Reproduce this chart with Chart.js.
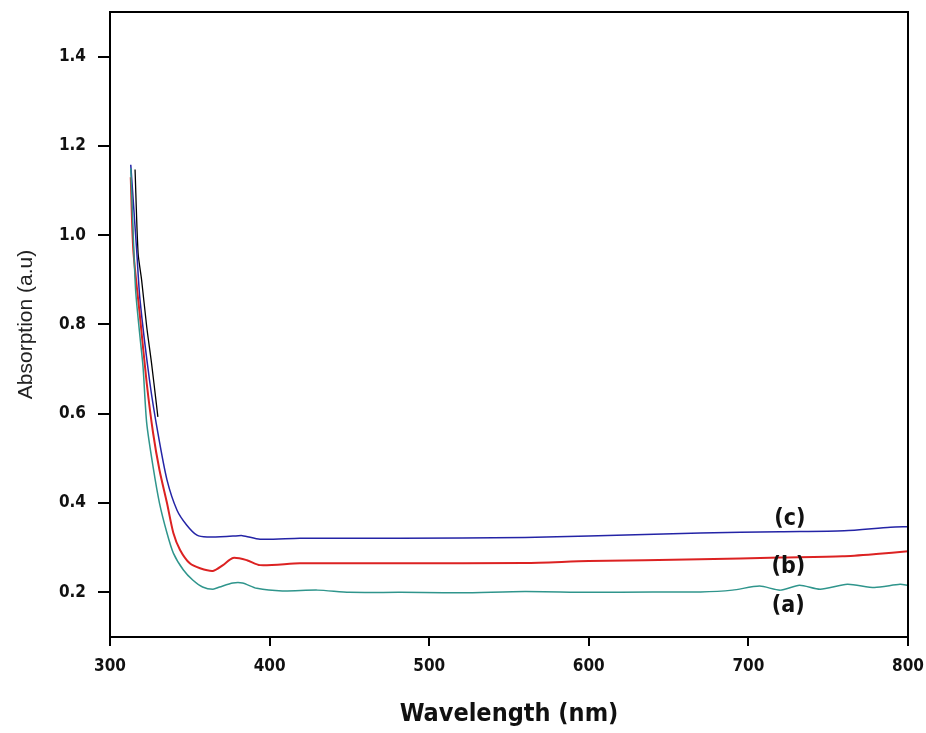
<!DOCTYPE html>
<html>
<head>
<meta charset="utf-8">
<script src="https://cdn.jsdelivr.net/npm/chart.js@4.4.1/dist/chart.umd.min.js"></script>
<style>
  html, body { margin: 0; padding: 0; background: #fff; }
  #wrap { width: 926px; height: 733px; }
</style>
</head>
<body>
<div id="wrap"><canvas id="myChart" width="926" height="733"></canvas></div>
<script>
// tick labels
var xTicks = [300, 400, 500, 600, 700, 800]
var yTicks = [0.2, 0.4, 0.6, 0.8, 1.0, 1.2, 1.4]

// (a) teal
var wlA = [313, 316, 318.8, 320.7, 323, 327, 331, 335.7, 339.7, 346, 352, 358, 364.5, 368.7, 377, 383, 392, 408, 430, 450, 482, 520, 560, 600, 640, 670, 690, 707, 720, 732, 745, 762, 779, 795, 800]
var absA = [1.15, 0.88, 0.772, 0.705, 0.579, 0.481, 0.4, 0.333, 0.288, 0.25, 0.227, 0.212, 0.207, 0.212, 0.221, 0.221, 0.209, 0.203, 0.205, 0.2, 0.2, 0.199, 0.202, 0.2, 0.201, 0.201, 0.205, 0.214, 0.205, 0.216, 0.207, 0.218, 0.211, 0.218, 0.216]

// (b) red
var wlB = [313, 314.6, 318.8, 323, 327, 331, 335.7, 339.7, 343.9, 350, 356.4, 364.5, 370.8, 377, 385.8, 394, 419, 482, 560, 600, 670, 720, 759, 780, 800]
var absB = [1.13, 0.967, 0.817, 0.669, 0.557, 0.474, 0.4, 0.333, 0.295, 0.265, 0.254, 0.248, 0.261, 0.277, 0.272, 0.261, 0.265, 0.265, 0.266, 0.27, 0.274, 0.278, 0.281, 0.286, 0.292]

// (c) blue
var wlC = [313, 316.7, 318.8, 325, 330, 335.7, 342, 348, 354.5, 360.8, 377, 383, 394, 419, 482, 560, 600, 670, 720, 760, 789, 800]
var absC = [1.158, 0.967, 0.855, 0.669, 0.557, 0.452, 0.384, 0.351, 0.328, 0.324, 0.326, 0.327, 0.319, 0.321, 0.321, 0.323, 0.326, 0.333, 0.336, 0.338, 0.346, 0.347]

// short black trace visible in the steep part
var wlK = [315.7, 317.6, 319.8, 323, 326, 329, 330]
var absK = [1.147, 0.96, 0.9, 0.795, 0.714, 0.624, 0.593]

// curve labels
var labelText = ["(c)", "(b)", "(a)"]
var labelX = [726, 725, 725]
var labelY = [0.364, 0.257, 0.169]

function pts(xs, ys) {
    var out = []
    for (let i = 0; i < xs.length; i++) out.push({ x: xs[i], y: ys[i] })
    return out
}

var boxPlugin = {
    id: 'box',
    afterDraw: function(chart) {
        var ctx = chart.ctx, a = chart.chartArea
        ctx.save()
        ctx.strokeStyle = '#000'
        ctx.lineWidth = 2
        ctx.beginPath()
        ctx.moveTo(a.left, a.top)
        ctx.lineTo(a.right, a.top)
        ctx.lineTo(a.right, a.bottom)
        ctx.stroke()
        // curve labels
        ctx.fillStyle = '#111'
        ctx.font = 'bold 23px "DejaVu Sans Condensed", sans-serif'
        ctx.textAlign = 'center'
        ctx.textBaseline = 'middle'
        for (let i = 0; i < labelText.length; i++) {
            ctx.fillText(labelText[i], chart.scales.x.getPixelForValue(labelX[i]), chart.scales.y.getPixelForValue(labelY[i]))
        }
        ctx.restore()
    }
}

var tickFont = { family: '"DejaVu Sans Condensed", sans-serif', size: 17, weight: 'bold' }

new Chart("myChart", {
    type: "line",
    data: {
        datasets: [{
            label: '(a)',
            data: pts(wlA, absA),
            borderColor: "#2f958c",
            borderWidth: 1.5
        }, {
            label: '(b)',
            data: pts(wlB, absB),
            borderColor: "#dc2222",
            borderWidth: 2
        }, {
            label: '(c)',
            data: pts(wlC, absC),
            borderColor: "#2424a6",
            borderWidth: 1.5
        }, {
            label: 'k',
            data: pts(wlK, absK),
            borderColor: "#000",
            borderWidth: 1.3
        }]
    },
    options: {
        responsive: false,
        animation: false,
        elements: { point: { radius: 0 }, line: { fill: false, tension: 0.25 } },
        layout: { padding: { top: 12, right: 18, left: 0, bottom: 0 } },
        plugins: { legend: { display: false }, tooltip: { enabled: false } },
        scales: {
            x: {
                type: 'linear',
                min: 300,
                max: 800,
                afterBuildTicks: function(s) { s.ticks = xTicks.map(v => ({ value: v })) },
                afterFit: function(s) { s.height = 96; s.paddingLeft = 0; s.paddingRight = 0 },
                border: { color: '#000', width: 2 },
                grid: { drawOnChartArea: false, color: '#000', lineWidth: 2, tickLength: 9 },
                ticks: { color: '#111', font: tickFont, padding: 10, maxRotation: 0 },
                title: {
                    display: true,
                    text: 'Wavelength (nm)',
                    color: '#111',
                    font: { family: '"DejaVu Sans Condensed", sans-serif', size: 25, weight: 'bold' },
                    padding: { top: 20 }
                }
            },
            y: {
                min: 0.1,
                max: 1.5,
                afterBuildTicks: function(s) { s.ticks = yTicks.map(v => ({ value: v })) },
                afterFit: function(s) { s.width = 110; s.paddingTop = 0; s.paddingBottom = 0 },
                border: { color: '#000', width: 2 },
                grid: { drawOnChartArea: false, color: '#000', lineWidth: 2, tickLength: 12 },
                ticks: { color: '#111', font: tickFont, padding: 12, callback: v => v.toFixed(1) },
                title: {
                    display: true,
                    text: 'Absorption (a.u)',
                    color: '#222',
                    font: { family: '"Liberation Sans", Arial, sans-serif', size: 21 },
                    padding: { bottom: 0, top: 14 }
                }
            }
        }
    },
    plugins: [boxPlugin]
});
</script>
</body>
</html>
